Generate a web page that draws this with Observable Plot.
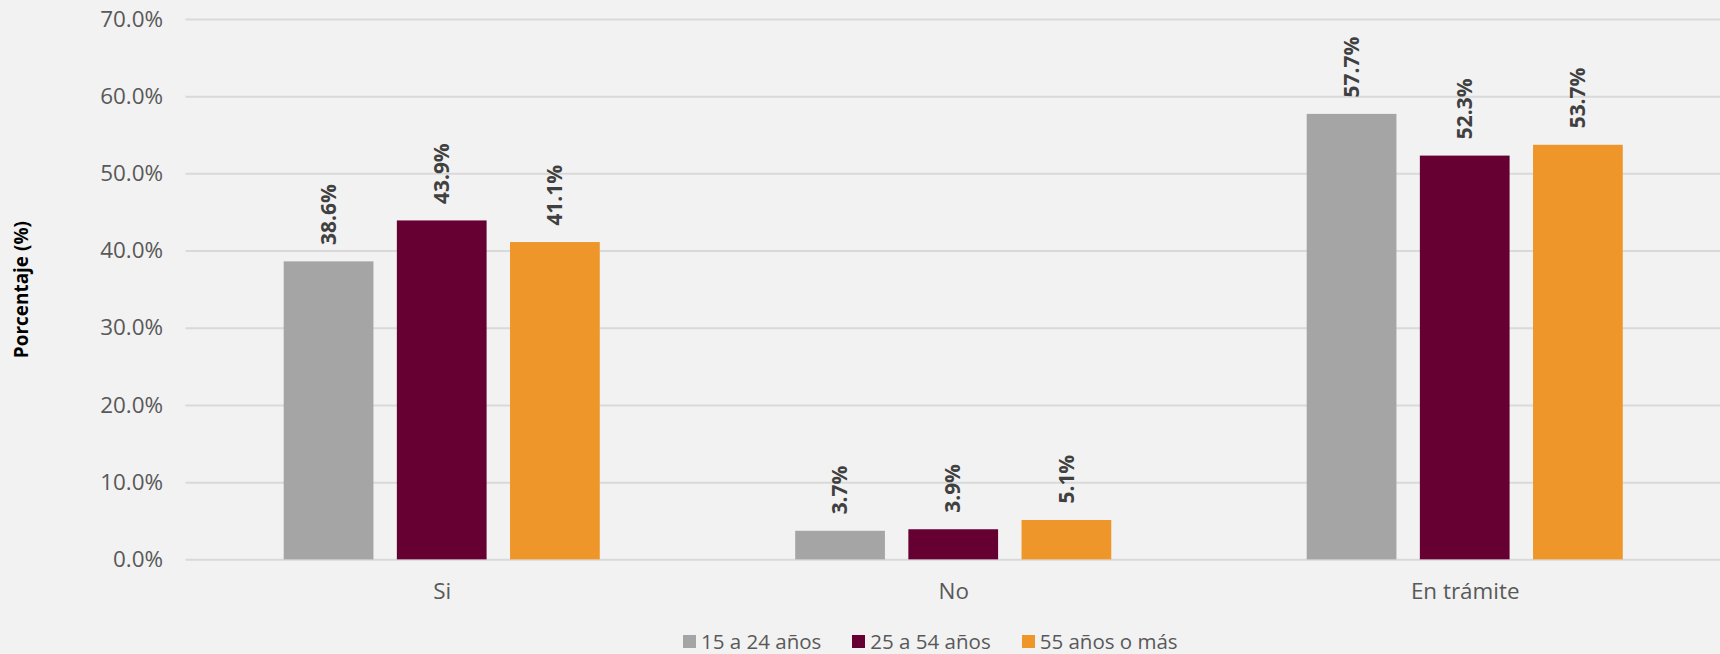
<!DOCTYPE html>
<html>
<head>
<meta charset="utf-8">
<script src="https://cdn.jsdelivr.net/npm/d3@7"></script>
<script src="https://cdn.jsdelivr.net/npm/@observablehq/plot@0.6"></script>
<style>
  html, body { margin: 0; padding: 0; background: #f2f2f2; overflow: hidden; width: 1720px; height: 654px; }
  #legend { display: flex; margin-left: 683px; margin-top: 11px; font-family: "Open Sans", sans-serif; font-size: 20.5px; line-height: 24px; color: #595959; }
  #legend .item { display: flex; align-items: center; white-space: nowrap; }
  #legend .sw { width: 13px; height: 13px; margin-right: 5px; display: inline-block; }
</style>
</head>
<body>
<div id="chart"></div>
<div id="legend"></div>
<script>
const categories = ["Si", "No", "En trámite"];
const series = ["15 a 24 años", "25 a 54 años", "55 años o más"];
const values15a24 = [38.6, 3.7, 57.7];
const values25a54 = [43.9, 3.9, 52.3];
const values55mas = [41.1, 5.1, 53.7];
const seriesColors = ["#a5a5a5", "#660033", "#ee9629"];
const yTicks = [0, 10, 20, 30, 40, 50, 60, 70];
const yTitle = "Porcentaje (%)";

const seriesValues = [values15a24, values25a54, values55mas];
const barStep = 113.5; // pixel spacing between bars within a group

const marks = [
  Plot.ruleY(yTicks, {stroke: "#d9d9d9", strokeWidth: 2})
];
series.forEach((s, j) => {
  const rows = categories.map((c, i) => ({cat: c, serie: s, value: seriesValues[j][i]}));
  const dx = (j - 1) * barStep;
  marks.push(Plot.barY(rows, {x: "cat", y: "value", fill: seriesColors[j], dx}));
  marks.push(Plot.text(rows, {x: "cat", y: "value", text: d => d.value.toFixed(1) + "%", rotate: -90, textAnchor: "start", dx, dy: -17, fontWeight: "bold", fontSize: 21, fill: "#404040"}));
});

const chart = Plot.plot({
  width: 1725,
  height: 620,
  marginTop: 19,
  marginBottom: 59,
  marginLeft: 186,
  marginRight: 0,
  style: {background: "#f2f2f2", fontFamily: "'Open Sans', sans-serif", fontSize: "22.5px", color: "#595959", overflow: "visible"},
  x: {domain: categories, paddingInner: 0.8246, paddingOuter: 0.4123, label: null, tickSize: 0, tickPadding: 23},
  y: {domain: [0, 70], ticks: yTicks, tickFormat: d => d.toFixed(1) + "%", tickSize: 0, tickPadding: 23, label: yTitle, labelAnchor: "center", labelOffset: 172},
  marks
});
document.getElementById("chart").appendChild(chart);

// style the y-axis title (bold, black, no arrow)
d3.select(chart).selectAll("text").filter(function() { return this.textContent.includes("Porcentaje"); })
  .text(yTitle)
  .attr("font-weight", "bold").attr("fill", "#000").attr("font-size", 19);

const legend = d3.select("#legend");
series.forEach((s, i) => {
  const it = legend.append("div").attr("class", "item").style("margin-right", i < series.length - 1 ? "31px" : "0");
  it.append("span").attr("class", "sw").style("background", seriesColors[i]);
  it.append("span").text(s);
});
</script>
</body>
</html>
